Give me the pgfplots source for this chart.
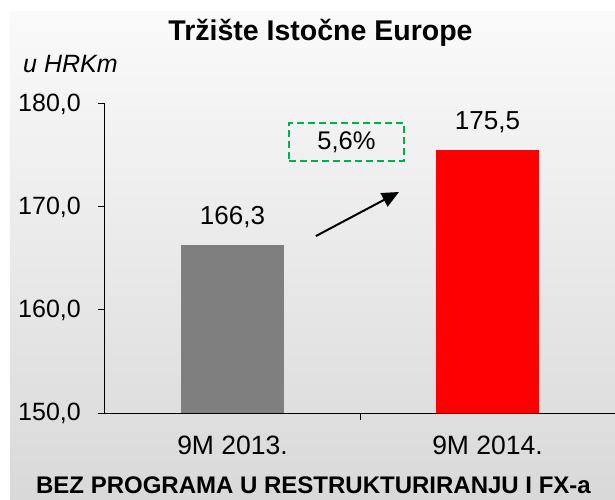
\documentclass[border=0pt]{standalone}
\usepackage{pgfplots}
\pgfplotsset{compat=1.18}
\usepackage{fontspec}
\setmainfont{Liberation Sans}
\usetikzlibrary{arrows.meta}
\definecolor{barGray}{HTML}{7F7F7F}
\definecolor{barRed}{HTML}{FF0000}
\definecolor{boxGreen}{HTML}{00B050}
\begin{document}
\begin{tikzpicture}[x=1pt,y=1pt]
\shade[top color=white!98!black,bottom color=white!85!black] (-95,-87) rectangle (510,401);
\begin{axis}[
  at={(0,0)}, anchor=south west,
  scale only axis, width=510pt, height=309pt,
  xmin=-0.5, xmax=1.5, ymin=150, ymax=180,
  axis x line*=bottom, axis y line*=left,
  axis line style={line width=1pt},
  ytick={150,160,170,180},
  yticklabel style={/pgf/number format/fixed, /pgf/number format/fixed zerofill, /pgf/number format/precision=1, /pgf/number format/use comma, /pgf/number format/assume math mode=true},
  yticklabel style={font=\fontsize{25}{30}\selectfont, anchor=east, inner sep=0pt, xshift=-17pt},
  y tick style={line width=1pt, black},
  tick align=outside, major tick length=7pt,
  xtick={0,1}, xticklabels={9M 2013., 9M 2014.},
  x tick style={draw=none},
  xticklabel style={font=\fontsize{26.5}{30}\selectfont, anchor=north, inner sep=0pt, yshift=-16pt},
  extra x ticks={0.5}, extra x tick labels={},
  extra x tick style={x tick style={draw=black, line width=1pt}},
  ybar, bar width=103pt,
  nodes near coords={\pgfmathprintnumber[fixed, fixed zerofill, precision=1, use comma, assume math mode=true]{\pgfplotspointmeta}},
  every node near coord/.append style={font=\fontsize{26}{30}\selectfont, anchor=south, inner sep=0pt, yshift=17pt},
  clip=false,
]
\addplot[fill=barGray, draw=none, bar shift=0pt] coordinates {(0,166.3)};
\addplot[fill=barRed, draw=none, bar shift=0pt] coordinates {(1,175.5)};
\node[draw=boxGreen, dashed, dash pattern=on 7pt off 4pt, line width=1.5pt, minimum width=115pt, minimum height=38pt, inner sep=0pt, font=\fontsize{25.5}{30}\selectfont] at (axis cs:0.447,176.3) {5,6\%};
\draw[line width=2pt, -{Triangle[length=17pt,width=15pt]}] (axis cs:0.327,167.18) -- (axis cs:0.653,171.46);
\end{axis}
\node[anchor=base, inner sep=0pt, font=\fontsize{28.5}{32}\selectfont\bfseries] at (215.5,372) {Tržište Istočne Europe};
\node[anchor=base west, inner sep=0pt, font=\fontsize{25}{30}\selectfont\itshape] at (-82,340) {u HRKm};
\node[anchor=base, inner sep=0pt, font=\fontsize{24}{28}\selectfont\bfseries] at (208.5,-80) {BEZ PROGRAMA U RESTRUKTURIRANJU I FX-a};
\pgfresetboundingbox
\path[use as bounding box] (-105,-87) rectangle (510,413);
\end{tikzpicture}
\end{document}
